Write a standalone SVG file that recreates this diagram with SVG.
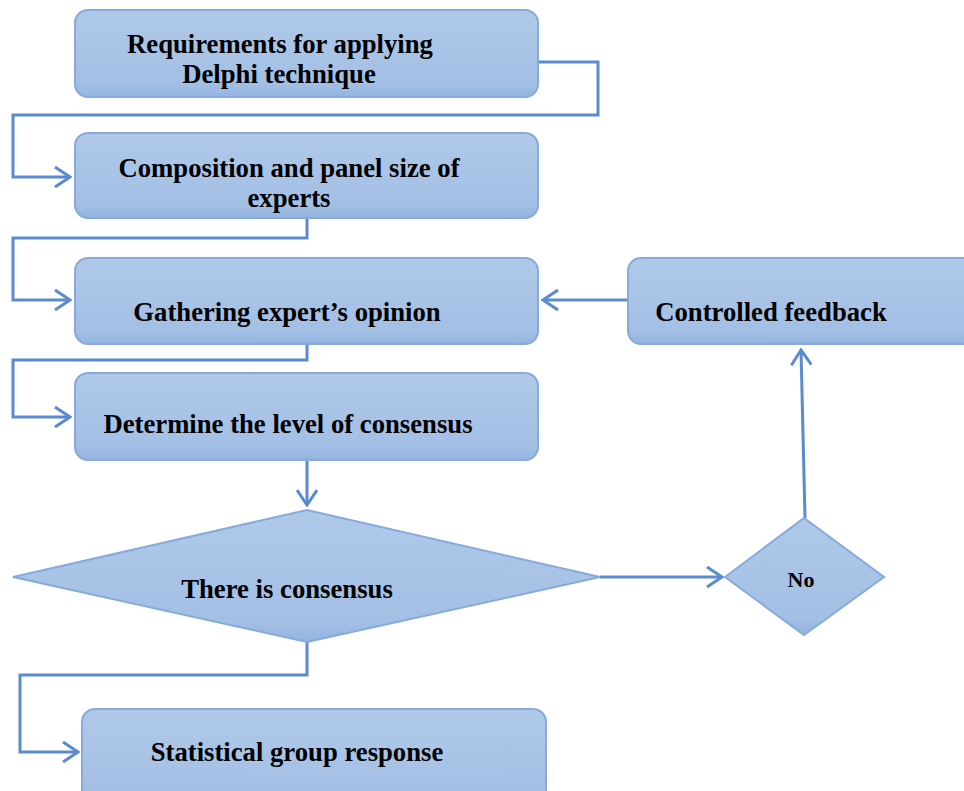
<svg xmlns="http://www.w3.org/2000/svg" width="964" height="791" viewBox="0 0 964 791">
<defs>
<linearGradient id="g" x1="0" y1="0" x2="0" y2="1">
<stop offset="0" stop-color="#b0c9e9"/>
<stop offset="0.85" stop-color="#a3bfe4"/>
<stop offset="1" stop-color="#93b4e0"/>
</linearGradient>
<marker id="ah" viewBox="0 0 22 22" refX="20" refY="11" markerWidth="22" markerHeight="22" markerUnits="userSpaceOnUse" orient="auto">
<path d="M5,1 L20,11 L5,21" fill="none" stroke="#5b8bcf" stroke-width="3"/>
</marker>
</defs>
<style>
.box{fill:url(#g);stroke:#86aadb;stroke-width:2}
.t{font-family:"Liberation Serif","Times New Roman",serif;font-weight:bold;font-size:26.7px;fill:#000;text-anchor:middle}
.c{fill:none;stroke:#5b8bcf;stroke-width:3;marker-end:url(#ah)}
</style>
<rect width="964" height="791" fill="#fff"/>
<g id="connectors">
<path class="c" d="M538,62 H598 V115 H13 V177 H70"/>
<path class="c" d="M307,218 V238 H13 V300 H70"/>
<path class="c" d="M307,344 V360 H13 V417 H70"/>
<path class="c" d="M307,460 V505"/>
<path class="c" d="M600,577 H722"/>
<path class="c" d="M805,518 L801,350"/>
<path class="c" d="M628,300 H543"/>
<path class="c" d="M307,642 V675 H20 V752 H78"/>
</g>
<g id="n1"><rect class="box" x="75" y="10" width="463" height="87" rx="13"/>
<text class="t" x="280" y="53">Requirements for applying</text><text class="t" x="279" y="83">Delphi technique</text></g>
<g id="n2"><rect class="box" x="75" y="133" width="463" height="85" rx="13"/>
<text class="t" x="289" y="177">Composition and panel size of</text><text class="t" x="289" y="207">experts</text></g>
<g id="n3"><rect class="box" x="75" y="258" width="463" height="86" rx="13"/>
<text class="t" x="287" y="321">Gathering expert’s opinion</text></g>
<g id="n4"><rect class="box" x="75" y="373" width="463" height="87" rx="13"/>
<text class="t" x="288" y="433">Determine the level of consensus</text></g>
<g id="n5"><rect class="box" x="628" y="258" width="350" height="86" rx="13"/>
<text class="t" x="771" y="321">Controlled feedback</text></g>
<g id="d1"><polygon class="box" points="13,577 307,510 600,577 307,642"/>
<text class="t" x="287" y="598">There is consensus</text></g>
<g id="d2"><polygon class="box" points="725,577 804,518 884,577 804,635"/>
<text class="t" x="801" y="587" style="font-size:22px">No</text></g>
<g id="n6"><rect class="box" x="82" y="709" width="464" height="100" rx="13"/>
<text class="t" x="297" y="761">Statistical group response</text></g>
</svg>
